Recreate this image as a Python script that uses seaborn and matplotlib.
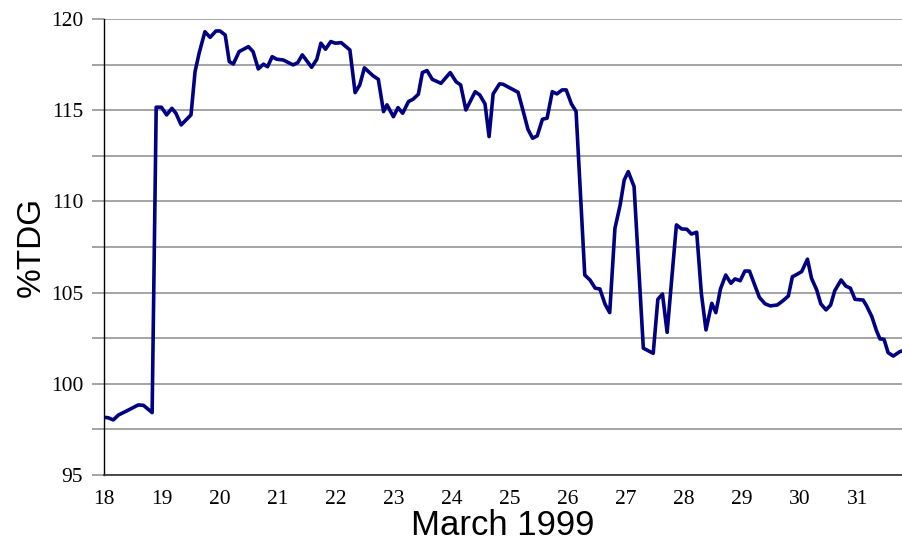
import numpy as np
import pandas as pd
import seaborn as sns
import matplotlib.pyplot as plt
from matplotlib.ticker import MultipleLocator

# dia de marco (fracionario) e %TDG
dias = [18.00, 18.07, 18.16, 18.25, 18.39, 18.59, 18.68, 18.83, 18.90, 18.99,
        19.08, 19.17, 19.24, 19.33, 19.50, 19.57, 19.64, 19.74, 19.83, 19.93,
        20.00, 20.09, 20.16, 20.23, 20.33, 20.49, 20.57, 20.66, 20.75, 20.82,
        20.90, 20.98, 21.09, 21.26, 21.34, 21.42, 21.58, 21.67, 21.74, 21.82,
        21.91, 21.99, 22.09, 22.24, 22.33, 22.41, 22.49, 22.64, 22.73, 22.82,
        22.88, 22.99, 23.07, 23.15, 23.25, 23.33, 23.42, 23.49, 23.57, 23.66,
        23.81, 23.97, 24.07, 24.15, 24.24, 24.40, 24.48, 24.57, 24.64, 24.71,
        24.82, 24.88, 25.14, 25.23, 25.31, 25.39, 25.47, 25.56, 25.64, 25.73,
        25.81, 25.90, 25.97, 26.06, 26.14, 26.29, 26.38, 26.47, 26.55, 26.64,
        26.72, 26.81, 26.90, 26.97, 27.04, 27.14, 27.30, 27.47, 27.55, 27.63,
        27.71, 27.87, 27.96, 28.05, 28.13, 28.22, 28.30, 28.38, 28.48, 28.55,
        28.63, 28.72, 28.81, 28.88, 28.97, 29.05, 29.13, 29.21, 29.30, 29.40,
        29.49, 29.61, 29.71, 29.80, 29.87, 29.95, 30.03, 30.13, 30.20, 30.29,
        30.36, 30.45, 30.53, 30.60, 30.71, 30.79, 30.87, 30.95, 31.09, 31.15,
        31.24, 31.32, 31.38, 31.45, 31.52, 31.61, 31.72, 31.76]
tdg = [98.16, 98.14, 98.02, 98.29, 98.51, 98.84, 98.82, 98.42, 115.16, 115.16,
       114.74, 115.10, 114.83, 114.19, 114.74, 117.11, 118.12, 119.30, 118.99, 119.34,
       119.34, 119.12, 117.66, 117.53, 118.21, 118.48, 118.21, 117.26, 117.52, 117.38,
       117.93, 117.79, 117.75, 117.48, 117.60, 118.03, 117.35, 117.79, 118.67, 118.34,
       118.76, 118.67, 118.70, 118.30, 115.96, 116.38, 117.32, 116.88, 116.69, 114.92,
       115.29, 114.64, 115.14, 114.83, 115.47, 115.60, 115.87, 117.06, 117.17, 116.69,
       116.47, 117.06, 116.56, 116.38, 115.01, 116.01, 115.83, 115.34, 113.55, 115.89,
       116.44, 116.42, 115.98, 114.92, 113.95, 113.46, 113.59, 114.50, 114.56, 116.01,
       115.89, 116.11, 116.11, 115.34, 114.93, 105.96, 105.69, 105.24, 105.20, 104.36,
       103.90, 108.52, 109.80, 111.17, 111.63, 110.81, 101.95, 101.67, 104.63, 104.92,
       102.82, 108.71, 108.49, 108.47, 108.21, 108.31, 104.96, 102.95, 104.41, 103.90,
       105.20, 105.96, 105.51, 105.75, 105.65, 106.18, 106.18, 105.51, 104.74, 104.38,
       104.27, 104.32, 104.56, 104.81, 105.87, 106.00, 106.15, 106.83, 105.78, 105.14,
       104.38, 104.05, 104.32, 105.10, 105.69, 105.36, 105.24, 104.63, 104.59, 104.27,
       103.68, 102.91, 102.46, 102.44, 101.71, 101.52, 101.76, 101.80]

dias_ticks = list(range(18, 32))
y_ticks = [95, 100, 105, 110, 115, 120]

df = pd.DataFrame({"dia": dias, "tdg": tdg})

sns.set_style("white")
plt.rcParams['font.family'] = ['Liberation Serif', 'DejaVu Serif']
plt.rcParams['text.color'] = 'black'
plt.rcParams['axes.labelcolor'] = 'black'
plt.rcParams['xtick.color'] = 'black'
plt.rcParams['ytick.color'] = 'black'

fig = plt.figure(figsize=(9.02, 5.41), dpi=100)
ax = fig.add_axes([0.1153, 0.122, 0.8847, 0.843])

sns.lineplot(data=df, x="dia", y="tdg", ax=ax, color="#000080", linewidth=2.6, sort=False)

ax.set_xlim(18, 31.76)
ax.set_ylim(95, 120)
ax.set_xticks(dias_ticks)
ax.set_xticklabels([str(d) for d in dias_ticks])
ax.set_yticks(y_ticks)
ax.yaxis.set_minor_locator(MultipleLocator(2.5))
ax.grid(True, axis="y", which="both", color="#8c8c8c", linewidth=1.1)
ax.set_axisbelow(True)

ax.tick_params(axis="y", which="both", left=True, length=9, width=1.1, color="#8c8c8c",
               labelcolor="black", labelsize=15.5, pad=6)
ax.tick_params(axis="x", bottom=False, labelcolor="black", labelsize=15.5, pad=7)

for s in ["top", "right"]:
    ax.spines[s].set_visible(False)
ax.spines["left"].set_color("black")
ax.spines["left"].set_linewidth(1.0)
ax.spines["bottom"].set_color("#333333")
ax.spines["bottom"].set_linewidth(1.2)

ax.set_xlabel("March 1999", family=["Liberation Sans", "DejaVu Sans"], fontsize=25,
              color="black", labelpad=0)
ax.set_ylabel("%TDG", family=["Liberation Sans", "DejaVu Sans"], fontsize=24,
              color="black", labelpad=3)

fig.savefig("out.png", dpi=100)
